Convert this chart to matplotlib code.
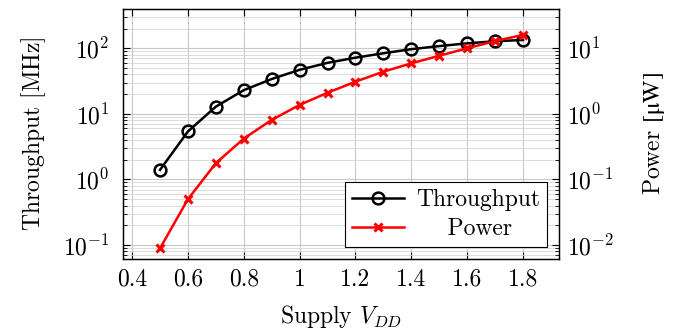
import numpy as np
import matplotlib
matplotlib.use("Agg")
import matplotlib.pyplot as plt
from matplotlib.ticker import LogLocator, NullFormatter

plt.rcParams["font.family"] = "serif"
plt.rcParams["font.serif"] = ["cmr10"]
plt.rcParams["mathtext.fontset"] = "cm"
plt.rcParams["axes.formatter.use_mathtext"] = True

vdd = [0.5, 0.6, 0.7, 0.8, 0.9, 1.0, 1.1, 1.2, 1.3, 1.4, 1.5, 1.6, 1.7, 1.8]
throughput_mhz = [1.4, 5.4, 12.9, 23, 34, 47, 60, 72, 84, 97, 108, 119, 128, 134]
power_uw = [0.0089, 0.050, 0.177, 0.42, 0.81, 1.37, 2.1, 3.1, 4.4, 5.9, 7.7, 10.0, 12.9, 16.0]
x_ticks = [0.4, 0.6, 0.8, 1.0, 1.2, 1.4, 1.6, 1.8]
x_tick_labels = ["0.4", "0.6", "0.8", "1", "1.2", "1.4", "1.6", "1.8"]

fs = 17

fig = plt.figure(figsize=(6.82, 3.29), dpi=100)
ax = fig.add_axes([0.181, 0.2128, 0.6387, 0.7598])
ax2 = ax.twinx()

ax.set_yscale("log")
ax2.set_yscale("log")
ax.set_xlim(0.369, 1.929)
ax.set_ylim(10 ** -1.213, 10 ** 2.599)
ax2.set_ylim(10 ** -2.213, 10 ** 1.599)

ax.grid(True, which="major", color="#c8c8c8", lw=0.8)
ax.grid(True, which="minor", axis="y", color="#d6d6d6", lw=0.6)
ax.set_axisbelow(True)

l1, = ax.plot(vdd, throughput_mhz, color="black", lw=1.8, marker="o", ms=8.5,
              mfc="none", mec="black", mew=1.8, label="Throughput", zorder=3)
l2, = ax2.plot(vdd, power_uw, color="red", lw=1.8, marker="x", ms=6,
               mec="red", mew=2.2, label="Power", zorder=3)

ax.set_xticks(x_ticks)
ax.set_xticklabels(x_tick_labels)
for a in (ax, ax2):
    a.yaxis.set_major_locator(LogLocator(base=10, numticks=10))
    a.yaxis.set_minor_locator(LogLocator(base=10, subs=np.arange(2, 10), numticks=10))
    a.yaxis.set_minor_formatter(NullFormatter())
    a.tick_params(which="both", direction="in", labelsize=fs)
    a.tick_params(which="major", length=5, width=0.8)
    a.tick_params(which="minor", length=3, width=0.6)
    for s in a.spines.values():
        s.set_linewidth(0.9)
ax.tick_params(axis="x", top=True, pad=7)
ax.tick_params(axis="y", pad=10)
ax2.tick_params(axis="y", pad=6)

ax.set_xlabel(r"Supply $V_{DD}$", fontsize=fs, labelpad=9)
ax.set_ylabel(r"Throughput $[\mathrm{MHz}]$", fontsize=fs, labelpad=11)
# stix math font gives an upright mu
ax2.set_ylabel(r"Power $[\mathrm{\mu W}]$", fontsize=fs, labelpad=19,
               math_fontfamily="stix")

leg = ax2.legend([l1, l2], ["Throughput", "    Power"], loc="lower right",
                 fontsize=fs, frameon=True, fancybox=False, edgecolor="black",
                 framealpha=1, borderaxespad=0.5, handlelength=2.2,
                 borderpad=0.3, labelspacing=0.3, handletextpad=0.5)
leg.get_frame().set_linewidth(0.8)

fig.savefig("out.png", dpi=100)
